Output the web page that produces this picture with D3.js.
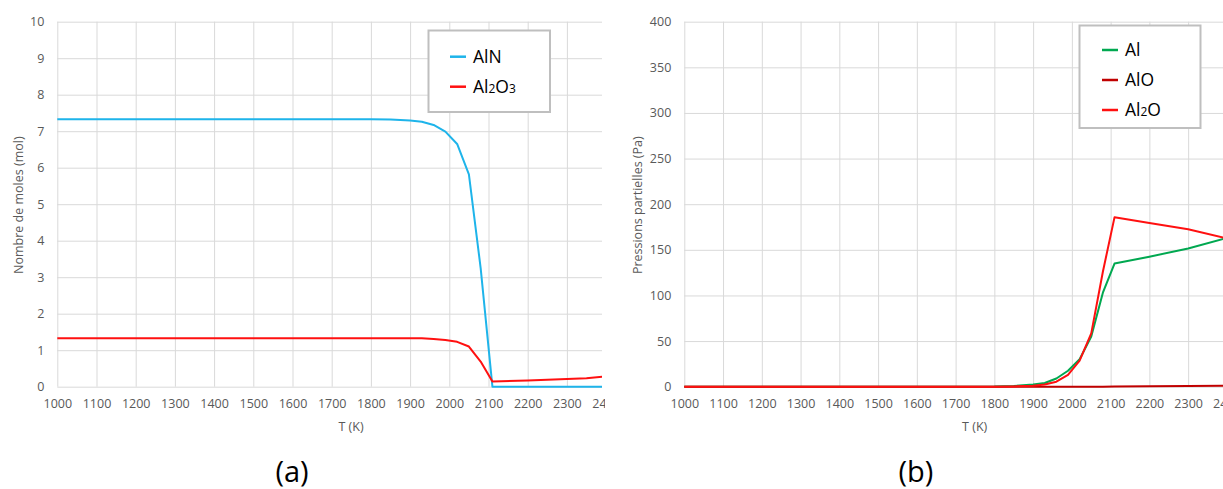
<!DOCTYPE html>
<html>
<head>
<meta charset="utf-8">
<script src="https://cdn.jsdelivr.net/npm/d3@7"></script>
<style>
  html, body { margin: 0; padding: 0; background: #fff; }
  svg { display: block; font-family: "Open Sans", sans-serif; }
</style>
</head>
<body>
<svg id="chart" width="1223" height="489"></svg>
<script>
// ---------- data ----------
const xTicks = [1000,1100,1200,1300,1400,1500,1600,1700,1800,1900,2000,2100,2200,2300,2400];

// (a) moles
const tempA   = [1000,1100,1200,1300,1400,1500,1600,1700,1800,1850,1900,1930,1960,1990,2020,2050,2080,2110,2200,2300,2350,2400];
const alnA    = [7.33,7.33,7.33,7.33,7.33,7.33,7.33,7.33,7.33,7.32,7.29,7.26,7.17,6.99,6.65,5.82,3.25,0,0,0,0,0];
const al2o3A  = [1.33,1.33,1.33,1.33,1.33,1.33,1.33,1.33,1.33,1.33,1.33,1.325,1.31,1.28,1.23,1.10,0.69,0.14,0.17,0.21,0.23,0.28];
const yTicksA = [0,1,2,3,4,5,6,7,8,9,10];

// (b) partial pressures
const tempB   = [1000,1100,1200,1300,1400,1500,1600,1700,1800,1850,1900,1930,1960,1990,2020,2050,2080,2110,2200,2300,2400];
const alB     = [0,0,0,0,0,0,0,0,0.1,0.8,2.5,4,9,17.5,30,55,103,135,142.5,151.5,163];
const aloB    = [0,0,0,0,0,0,0,0,0,0,0,0,0,0,0,0,0,0.2,0.4,0.8,1.0];
const al2oB   = [0,0,0,0,0,0,0,0,0,0.3,1,2.5,5.5,13,28.5,58.5,126,185.6,179.5,172.5,162.5];
const yTicksB = [0,50,100,150,200,250,300,350,400];

const svg = d3.select("#chart");
const defs = svg.append("defs");

function panel(opts) {
  const {id, x0, x1, y0, y1, yMax, yTicks, clipPlot, clipAll, series, yTitle, yTitleX, xTitleX, tag, tagX, legend} = opts;
  defs.append("clipPath").attr("id", id + "-plot")
    .append("rect").attr("x", x0 - 1).attr("y", 0).attr("width", clipPlot - x0 + 1).attr("height", 489);
  defs.append("clipPath").attr("id", id + "-all")
    .append("rect").attr("x", 0).attr("y", 0).attr("width", clipAll).attr("height", 489);

  const x = d3.scaleLinear().domain([1000, 2400]).range([x0, x1]);
  const y = d3.scaleLinear().domain([0, yMax]).range([y0, y1]);

  const gAll = svg.append("g").attr("clip-path", `url(#${id}-all)`);
  const gPlot = gAll.append("g").attr("clip-path", `url(#${id}-plot)`);

  // gridlines
  gPlot.append("g").attr("transform", `translate(0,${y0})`)
    .call(d3.axisBottom(x).tickValues(xTicks).tickSize(-(y0 - y1)).tickFormat(""))
    .call(g => g.select(".domain").remove())
    .call(g => g.selectAll("line").attr("stroke", "#D9D9D9").attr("stroke-width", 1));
  gPlot.append("g").attr("transform", `translate(${x0},0)`)
    .call(d3.axisLeft(y).tickValues(yTicks).tickSize(-(x1 - x0)).tickFormat(""))
    .call(g => g.select(".domain").remove())
    .call(g => g.selectAll("line").attr("stroke", "#D9D9D9").attr("stroke-width", 1));

  // axis labels
  const xa = gAll.append("g").attr("transform", `translate(0,${y0})`)
    .call(d3.axisBottom(x).tickValues(xTicks).tickSize(0).tickPadding(12).tickFormat(d3.format("d")));
  xa.select(".domain").remove();
  xa.selectAll("text").attr("fill", "#595959").style("font-size", "12.5px").style("font-family", "Open Sans");

  const ya = gAll.append("g").attr("transform", `translate(${x0},0)`)
    .call(d3.axisLeft(y).tickValues(yTicks).tickSize(0).tickPadding(13).tickFormat(d3.format("d")));
  ya.select(".domain").remove();
  ya.selectAll("text").attr("fill", "#595959").style("font-size", "12.5px").style("font-family", "Open Sans");

  // lines
  series.forEach(s => {
    const line = d3.line().x((d, i) => x(s.t[i])).y(d => y(d));
    gPlot.append("path").datum(s.v)
      .attr("d", line)
      .attr("fill", "none")
      .attr("stroke", s.color)
      .attr("stroke-width", 2)
      .attr("stroke-linejoin", "round");
  });

  // titles
  gAll.append("text")
    .attr("transform", `translate(${yTitleX},${(y0 + y1) / 2 + 1}) rotate(-90)`)
    .attr("text-anchor", "middle").attr("dominant-baseline", "central")
    .attr("fill", "#595959").style("font-size", "12.5px")
    .text(yTitle);
  gAll.append("text")
    .attr("x", xTitleX).attr("y", 431)
    .attr("text-anchor", "middle")
    .attr("fill", "#595959").style("font-size", "12.5px")
    .text("T (K)");

  svg.append("text").attr("x", tagX).attr("y", 482)
    .attr("text-anchor", "middle").attr("fill", "#000")
    .style("font-size", "29px")
    .text(tag);

  // legend
  const lg = gAll.append("g");
  lg.append("rect")
    .attr("x", legend.x).attr("y", legend.y).attr("width", legend.w).attr("height", legend.h)
    .attr("fill", "#fff").attr("stroke", "#BFBFBF").attr("stroke-width", 2);
  legend.items.forEach((it, i) => {
    const cy = legend.firstY + i * legend.step;
    lg.append("line")
      .attr("x1", legend.lx).attr("x2", legend.lx + 16)
      .attr("y1", cy).attr("y2", cy)
      .attr("stroke", it.color).attr("stroke-width", 2.5);
    const t = lg.append("text")
      .attr("x", legend.lx + 23).attr("y", cy + 6)
      .attr("fill", "#000").style("font-size", "17.5px");
    it.parts.forEach(p => {
      if (p.sub) {
        t.append("tspan").style("font-size", "12px").text(p.s);
      } else {
        t.append("tspan").text(p.s);
      }
    });
  });
}

panel({
  id: "a", x0: 57.3, x1: 606.1, y0: 386.7, y1: 21.7, yMax: 10, yTicks: yTicksA,
  clipPlot: 602, clipAll: 605,
  series: [
    {t: tempA, v: alnA, color: "#1EB4EA"},
    {t: tempA, v: al2o3A, color: "#FF1010"}
  ],
  yTitle: "Nombre de moles (mol)", yTitleX: 18.3, xTitleX: 351, tag: "(a)", tagX: 292,
  legend: {
    x: 428.5, y: 30.5, w: 121.5, h: 81.5, lx: 450, firstY: 56.7, step: 30,
    items: [
      {color: "#1EB4EA", parts: [{s: "AlN"}]},
      {color: "#FF1010", parts: [{s: "Al"}, {s: "2", sub: true}, {s: "O"}, {s: "3", sub: true}]}
    ]
  }
});

panel({
  id: "b", x0: 684.3, x1: 1226.9, y0: 386.7, y1: 21.7, yMax: 400, yTicks: yTicksB,
  clipPlot: 1223, clipAll: 1223,
  series: [
    {t: tempB, v: alB, color: "#00A850"},
    {t: tempB, v: aloB, color: "#C00000"},
    {t: tempB, v: al2oB, color: "#FF1010"}
  ],
  yTitle: "Pressions partielles (Pa)", yTitleX: 637.5, xTitleX: 974.7, tag: "(b)", tagX: 916,
  legend: {
    x: 1079.5, y: 25.5, w: 121, h: 102.5, lx: 1102, firstY: 50, step: 30,
    items: [
      {color: "#00A850", parts: [{s: "Al"}]},
      {color: "#C00000", parts: [{s: "AlO"}]},
      {color: "#FF1010", parts: [{s: "Al"}, {s: "2", sub: true}, {s: "O"}]}
    ]
  }
});
</script>
</body>
</html>
